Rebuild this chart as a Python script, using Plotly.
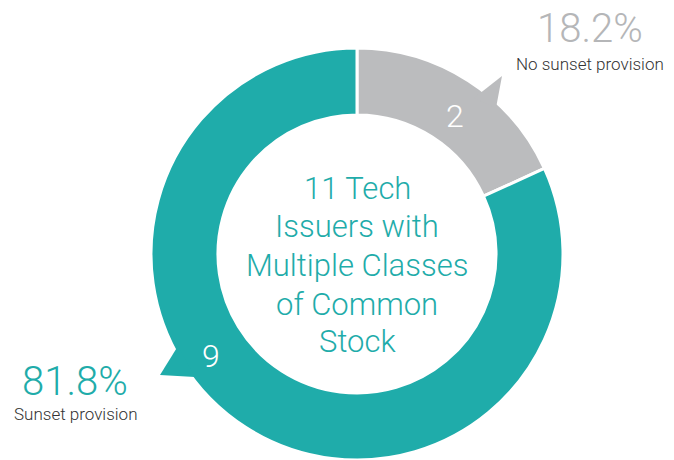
import plotly.graph_objects as go

W, H = 674, 460

categories = ["No sunset provision", "Sunset provision"]
counts = [2, 9]
percent_labels = ["18.2%", "81.8%"]
colors = ["#BBBCBE", "#1FACAA"]
center_lines = ["11 Tech", "Issuers with", "Multiple Classes", "of Common", "Stock"]

FONT = "Roboto"

def px(x, y):
    return x / W, 1 - y / H

fig = go.Figure()
fig.add_trace(go.Pie(
    labels=categories,
    values=counts,
    sort=False,
    direction="clockwise",
    rotation=0,
    hole=0.675,
    marker=dict(colors=colors, line=dict(color="white", width=3)),
    textinfo="none",
    hoverinfo="label+value",
    showlegend=False,
    domain=dict(x=[151 / W, 563 / W], y=[0, 412 / H]),
))

def tri(points, color):
    pts = [px(x, y) for x, y in points]
    path = "M " + " L ".join(f"{a:.5f},{b:.5f}" for a, b in pts) + " Z"
    return dict(type="path", xref="paper", yref="paper", path=path,
                fillcolor=color, line=dict(width=0), layer="above")

fig.update_layout(
    width=W, height=H,
    margin=dict(l=0, r=0, t=0, b=0),
    paper_bgcolor="white",
    plot_bgcolor="white",
    shapes=[
        tri([(474, 98), (502, 76), (496, 108)], colors[0]),
        tri([(178, 346), (160, 375), (195, 377)], colors[1]),
    ],
)

def ann(x, y, text, size, color, weight=300):
    ax, ay = px(x, y)
    fig.add_annotation(x=ax, y=ay, xref="paper", yref="paper", text=text,
                       showarrow=False, xanchor="center", yanchor="middle",
                       font=dict(family=FONT, size=size, color=color, weight=weight))

# center title, one annotation per line
for line, yy in zip(center_lines, [189, 227, 265, 304, 341]):
    ann(357, yy, line, 31, colors[1])
# slice counts
ann(455, 116, str(counts[0]), 32, "white")
ann(211, 356, str(counts[1]), 32, "white")
# outside percentages and labels
ann(590, 29, percent_labels[0], 40, "#B5B6B8")
ann(590, 64, categories[0], 17, "#333333")
ann(75, 381, percent_labels[1], 40, colors[1])
ann(75, 414, categories[1], 17, "#333333")

fig.write_html("out.html")
